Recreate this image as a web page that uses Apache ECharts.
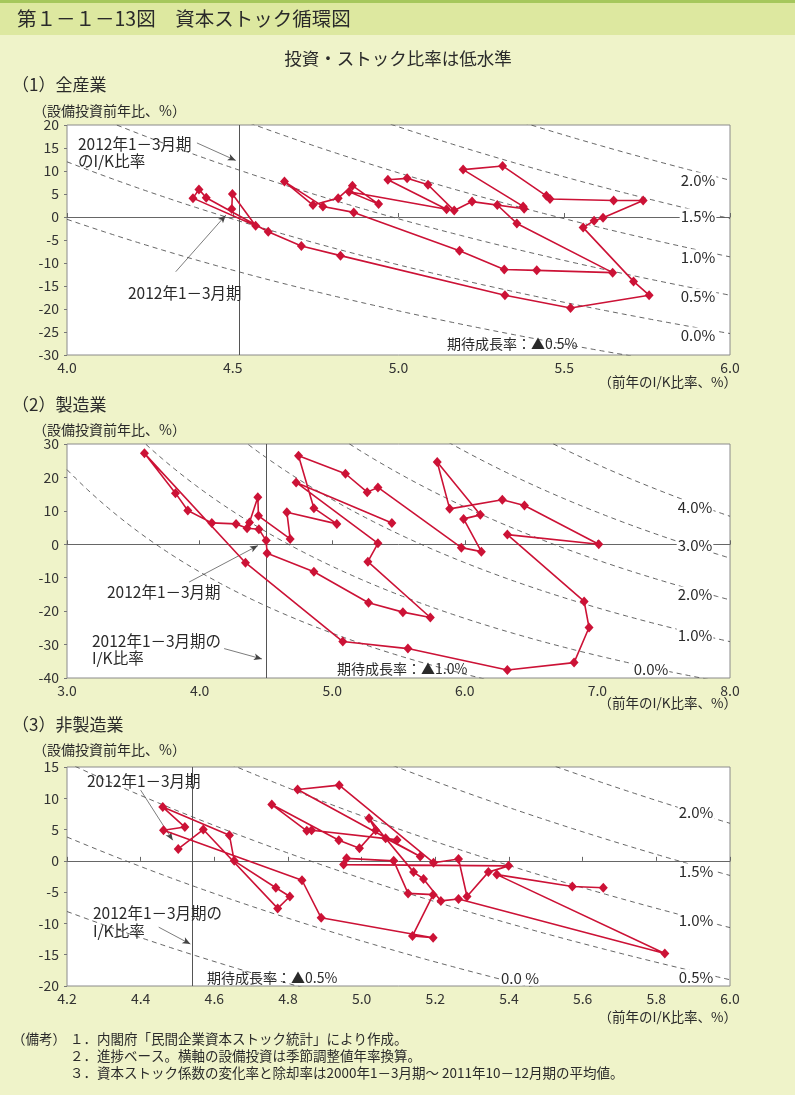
<!DOCTYPE html>
<html><head><meta charset="utf-8">
<script src="https://cdn.jsdelivr.net/npm/echarts@6/dist/echarts.min.js"></script>
<style>html,body{margin:0;padding:0;background:#eff3c9;}#c{width:795px;height:1095px;}</style>
</head><body><div id="c"></div>
<script>
// ---------------- data ----------------
// (1) 全産業 : 前年のI/K比率(%) , 設備投資前年比(%)
const allX = [5.298,5.357,5.646,5.417,5.319,5.184,4.865,4.772,4.656,4.742,4.818,4.861,4.940,4.851,5.145,4.968,5.026,5.089,5.168,5.222,5.379,5.376,5.195,5.314,5.446,5.457,5.649,5.738,5.617,5.590,5.557,5.709,5.756,5.519,5.321,4.825,4.707,4.607,4.420,4.398,4.380,4.569,4.499,4.497];
const allY = [2.6,-1.4,-12.1,-11.6,-11.4,-7.35,1.0,2.3,7.7,2.6,4.1,6.8,2.8,5.5,1.7,8.1,8.4,7.0,1.4,3.35,1.8,2.3,10.3,11.1,4.6,3.9,3.6,3.6,-0.15,-0.8,-2.3,-14.0,-17.0,-19.8,-17.0,-8.4,-6.3,-3.2,4.2,6.0,4.1,-1.9,5.0,1.75];
// (2) 製造業
const mfgX = [5.45,4.728,5.345,5.269,5.74,5.533,5.274,4.862,4.509,4.502,4.447,4.358,4.275,4.092,3.911,3.818,3.584,4.346,5.08,5.571,6.321,6.824,6.937,6.9,6.321,7.01,6.45,6.283,5.886,5.792,6.117,5.991,6.125,5.974,5.345,5.264,5.1,4.746,4.862,5.035,4.658,4.683,4.444,4.439,4.376];
const mfgY = [6.4,18.5,0.3,-5.2,-21.9,-20.3,-17.5,-8.2,-2.7,1.1,4.5,4.8,6.1,6.4,10.1,15.3,27.2,-5.5,-29.1,-31.2,-37.6,-35.4,-24.9,-17.1,2.9,0.0,11.6,13.3,10.6,24.6,8.8,7.6,-2.2,-1.0,17.0,15.6,21.1,26.5,10.8,6.1,9.6,1.6,8.5,14.1,6.5];
// (3) 非製造業
const nonX = [5.656,5.572,5.367,5.823,5.263,5.215,5.168,5.141,5.02,5.038,4.994,4.938,4.756,4.851,4.864,5.096,5.065,5.159,4.826,4.939,5.195,5.263,5.286,5.344,5.399,4.951,4.959,5.087,5.126,5.194,5.138,5.194,4.89,4.838,4.462,4.52,4.46,4.641,4.654,4.767,4.805,4.772,4.57,4.502];
const nonY = [-4.3,-4.1,-2.2,-14.8,-6.1,-6.4,-2.9,-1.8,6.8,4.9,2.0,3.3,9.0,4.8,4.9,3.35,3.6,0.7,11.4,12.1,-0.3,0.3,-5.7,-1.8,-0.8,-0.6,0.4,0.0,-5.2,-5.4,-12.0,-12.3,-9.1,-3.1,4.9,5.4,8.6,4.1,0.0,-4.3,-5.7,-7.6,5.0,1.9];

// 期待成長率 (iso-lines) and 除却率等
const allGrowth = [-0.5,0,0.5,1.0,1.5,2.0];
const mfgGrowth = [-1,0,1,2,3,4];
const nonGrowth = [-0.5,0,0.5,1.0,1.5,2.0];
const allDep = 4.48, mfgDep = 4.67, nonDep = 4.36;
// 2012年1-3月期のI/K比率
const allIK = 4.52, mfgIK = 4.50, nonIK = 4.54;

// ticks
const allXTicks = [4.0,4.5,5.0,5.5,6.0], allYTicks=[-30,-25,-20,-15,-10,-5,0,5,10,15,20];
const mfgXTicks = [3,4,5,6,7,8], mfgYTicks=[-40,-30,-20,-10,0,10,20,30];
const nonXTicks = [4.2,4.4,4.6,4.8,5.0,5.2,5.4,5.6,5.8,6.0], nonYTicks=[-20,-15,-10,-5,0,5,10,15];

// ---------------- chart ----------------
const FONT = '"Noto Sans CJK JP","Noto Sans",sans-serif';
const RED = '#cc1236';
const chart = echarts.init(document.getElementById('c'), null, {renderer:'canvas'});

function pairs(xs, ys){ return xs.map((x,i)=>[x, ys[i]]); }
function isoCurve(g, d, xmin, xmax){
  const pts=[]; const n=160;
  for(let k=0;k<=n;k++){ const x = xmin+(xmax-xmin)*k/n; pts.push([x, 100*(g+d)/x-100]); }
  return pts;
}
const panels = [
  {top:125, height:230, xt:allXTicks, yt:allYTicks, xi:0.5, yi:5, xs:allX, ys:allY, g:allGrowth, d:allDep, ik:allIK,
   arrows:[[[4.392,16.1],[4.509,12.3]], [[4.328,-11.9],[4.479,0.4]]]},
  {top:444, height:234, xt:mfgXTicks, yt:mfgYTicks, xi:1, yi:10, xs:mfgX, ys:mfgY, g:mfgGrowth, d:mfgDep, ik:mfgIK,
   arrows:[[[3.921,-11.3],[4.44,-0.4]], [[4.185,-31.2],[4.47,-34.3]]]},
  {top:767, height:219, xt:nonXTicks, yt:nonYTicks, xi:0.2, yi:5, xs:nonX, ys:nonY, g:nonGrowth, d:nonDep, ik:nonIK,
   arrows:[[[4.40,11.3],[4.487,3.3]], [[4.449,-10.6],[4.535,-13.3]]]}
];

const grid=[], xAxis=[], yAxis=[], series=[];
panels.forEach((p,i)=>{
  const xmin=p.xt[0], xmax=p.xt[p.xt.length-1], ymin=p.yt[0], ymax=p.yt[p.yt.length-1];
  grid.push({left:67, top:p.top, width:663, height:p.height, show:true, backgroundColor:'#fff', borderColor:'#8a8a8a', borderWidth:1});
  xAxis.push({gridIndex:i, type:'value', min:xmin, max:xmax, interval:p.xi, position:'bottom',
    axisLine:{show:false,onZero:false}, axisTick:{show:false}, splitLine:{show:false},
    axisLabel:{fontSize:14, color:'#333', margin:6, fontFamily:FONT, formatter:v=>(+v).toFixed(1)}});
  xAxis.push({gridIndex:i, type:'value', min:xmin, max:xmax, interval:p.xi, position:'bottom',
    axisLine:{show:true,onZero:true,onZeroAxisIndex:i,lineStyle:{color:'#666',width:1}},
    axisTick:{show:true,inside:true,length:4,lineStyle:{color:'#666'}}, axisLabel:{show:false}, splitLine:{show:false}});
  yAxis.push({gridIndex:i, type:'value', min:ymin, max:ymax, interval:p.yi,
    axisLine:{show:false}, axisTick:{show:true,inside:false,length:3,lineStyle:{color:'#777'}}, splitLine:{show:false},
    axisLabel:{fontSize:14, color:'#333', margin:8, fontFamily:FONT}});
  p.g.forEach(g=>{
    series.push({type:'line', xAxisIndex:2*i, yAxisIndex:i, data:isoCurve(g,p.d,xmin,xmax), symbol:'none', silent:true, clip:true,
      lineStyle:{type:[5,4], color:'#555', width:0.9}, z:1});
  });
  const ml = [{xAxis:p.ik, lineStyle:{type:'solid', color:'#555', width:1}}];
  p.arrows.forEach(a=>{
    ml.push([{coord:a[0], symbol:'none', lineStyle:{type:'solid', color:'#444', width:0.7}}, {coord:a[1], symbol:'arrow', symbolSize:[5,8]}]);
  });
  series.push({type:'line', xAxisIndex:2*i, yAxisIndex:i, data:pairs(p.xs,p.ys), symbol:'diamond', symbolSize:[9,10], showAllSymbol:true,
    itemStyle:{color:RED}, lineStyle:{color:RED, width:1.6}, z:5, clip:false,
    markLine:{silent:true, symbol:['none','none'], label:{show:false}, animation:false, data:ml}});
});

function T(text,x,y,size,align,extra){
  return Object.assign({type:'text', x:x, y:y, z:100, silent:true,
    style:Object.assign({text:text, fontSize:size, fontFamily:FONT, fill:'#2a2a2a', textAlign:align||'left', textVerticalAlign:'middle', verticalAlign:'middle'}, extra||{})});
}
const WB = {backgroundColor:'#fff', padding:[0,1]};
const graphic = [
  {type:'rect', shape:{x:0,y:0,width:795,height:3}, style:{fill:'#a5c75c'}, z:0},
  {type:'rect', shape:{x:0,y:3,width:795,height:32}, style:{fill:'#dde8a0'}, z:0},
  T('第１－１－13図　資本ストック循環図', 17, 19, 19.5),
  T('投資・ストック比率は低水準', 398, 58, 17.5, 'center'),
  // panel 1
  T('（1）全産業', 12, 85, 17),
  T('（設備投資前年比、%）', 33, 111, 14),
  T('（前年のI/K比率、%）', 737, 382, 13.5, 'right'),
  T('2012年1－3月期', 78, 144, 15.5),
  T('のI/K比率', 78, 161, 15.5),
  T('2012年1－3月期', 128, 293, 15.5),
  T('期待成長率：▲0.5%', 447, 344, 14),
  T('2.0%', 698, 180, 15, 'center', WB),
  T('1.5%', 698, 216, 15, 'center', WB),
  T('1.0%', 698, 257, 15, 'center', WB),
  T('0.5%', 698, 296, 15, 'center', WB),
  T('0.0%', 698, 335, 15, 'center', WB),
  // panel 2
  T('（2）製造業', 12, 405, 17),
  T('（設備投資前年比、%）', 33, 430, 14),
  T('（前年のI/K比率、%）', 737, 703, 13.5, 'right'),
  T('2012年1－3月期', 107, 592, 15.5),
  T('2012年1－3月期の', 92, 641, 15.5),
  T('I/K比率', 92, 658, 15.5),
  T('期待成長率：▲1.0%', 337, 669, 14),
  T('4.0%', 695, 507, 15, 'center', WB),
  T('3.0%', 695, 545, 15, 'center', WB),
  T('2.0%', 695, 594, 15, 'center', WB),
  T('1.0%', 695, 635, 15, 'center', WB),
  T('0.0%', 651, 669, 15, 'center', WB),
  // panel 3
  T('（3）非製造業', 12, 725, 17),
  T('（設備投資前年比、%）', 33, 750, 14),
  T('（前年のI/K比率、%）', 737, 1017, 13.5, 'right'),
  T('2012年1－3月期', 87, 781, 15.5),
  T('2012年1－3月期の', 93, 913, 15.5),
  T('I/K比率', 93, 931, 15.5),
  T('期待成長率：▲0.5%', 207, 978, 14),
  T('2.0%', 696, 812, 15, 'center', WB),
  T('1.5%', 696, 871, 15, 'center', WB),
  T('1.0%', 696, 920, 15, 'center', WB),
  T('0.5%', 696, 977, 15, 'center', WB),
  T('0.0 %', 520, 978, 15, 'center', WB),
  // notes
  T('（備考）', 12, 1039, 13.5),
  T('１．内閣府「民間企業資本ストック統計」により作成。', 70, 1039, 13.5),
  T('２．進捗ベース。横軸の設備投資は季節調整値年率換算。', 70, 1056, 13.5),
  T('３．資本ストック係数の変化率と除却率は2000年1－3月期～ 2011年10－12月期の平均値。', 70, 1073, 13.5)
];

chart.setOption({animation:false, backgroundColor:'#eff3c9', grid, xAxis, yAxis, series, graphic});
</script></body></html>
